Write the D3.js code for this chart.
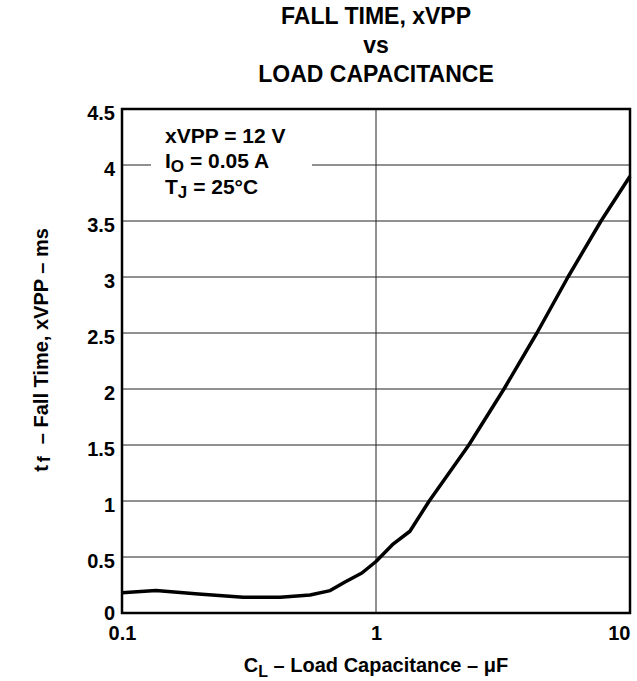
<!DOCTYPE html>
<html>
<head>
<meta charset="utf-8">
<script src="https://cdn.jsdelivr.net/npm/d3@7"></script>
<style>
  body { margin: 0; background: #fff; }
  text { font-family: "Liberation Sans", Arial, sans-serif; font-weight: bold; fill: #000; }
</style>
</head>
<body>
<div id="chart"></div>
<script>
// curve
var capacitance = [0.1, 0.136, 0.2, 0.3, 0.42, 0.55, 0.66, 0.755, 0.88, 1.0, 1.16, 1.36, 1.62, 2.32, 3.19, 4.3, 5.7, 7.69, 10];
var fallTime = [0.18, 0.2, 0.17, 0.14, 0.14, 0.16, 0.2, 0.277, 0.357, 0.46, 0.61, 0.73, 1.0, 1.5, 2.0, 2.5, 3.0, 3.5, 3.9];

var yTicks = [0, 0.5, 1, 1.5, 2, 2.5, 3, 3.5, 4, 4.5];
var xTicks = [0.1, 1, 10];
var titleLines = ['FALL TIME, xVPP', 'vs', 'LOAD CAPACITANCE'];

var width = 637;
var height = 681;
var plotLeft = 122, plotRight = 630, plotTop = 109, plotBottom = 613;

var svg = d3.select('#chart').append('svg')
    .attr('width', width)
    .attr('height', height);

var x = d3.scaleLog().domain([0.1, 10]).range([plotLeft, plotRight]);
var y = d3.scaleLinear().domain([0, 4.5]).range([plotBottom, plotTop]);

// title
svg.selectAll('.title')
    .data(titleLines)
    .enter()
    .append('text')
    .attr('class', 'title')
    .attr('x', 376)
    .attr('y', function (d, i) { return 24 + i * 29; })
    .attr('text-anchor', 'middle')
    .attr('font-size', '23px')
    .text(function (d) { return d; });

// grid
svg.append('g')
    .selectAll('line')
    .data(yTicks.slice(1, -1))
    .enter()
    .append('line')
    .attr('x1', plotLeft).attr('x2', plotRight)
    .attr('y1', function (d) { return y(d); })
    .attr('y2', function (d) { return y(d); })
    .attr('stroke', '#222')
    .attr('stroke-width', 1);

svg.append('line')
    .attr('x1', x(1)).attr('x2', x(1))
    .attr('y1', plotTop).attr('y2', plotBottom)
    .attr('stroke', '#222')
    .attr('stroke-width', 1);

// legend box covers the grid
svg.append('rect')
    .attr('x', 151).attr('y', 112)
    .attr('width', 161).attr('height', 96)
    .attr('fill', '#fff');

var legend = svg.append('g').attr('font-size', '21px');
var l1 = legend.append('text').attr('x', 165).attr('y', 143);
l1.text('xVPP = 12 V');
var l2 = legend.append('text').attr('x', 165).attr('y', 168);
l2.append('tspan').text('I');
l2.append('tspan').attr('dy', 4).attr('font-size', '17px').text('O');
l2.append('tspan').attr('dy', -4).text(' = 0.05 A');
var l3 = legend.append('text').attr('x', 165).attr('y', 194);
l3.append('tspan').text('T');
l3.append('tspan').attr('dy', 4).attr('font-size', '17px').text('J');
l3.append('tspan').attr('dy', -4).text(' = 25\u00B0C');

// curve
var points = capacitance.map(function (c, i) { return [c, fallTime[i]]; });
var line = d3.line()
    .x(function (d) { return x(d[0]); })
    .y(function (d) { return y(d[1]); });

svg.append('path')
    .datum(points)
    .attr('d', line)
    .attr('fill', 'none')
    .attr('stroke', '#000')
    .attr('stroke-width', 3.5)
    .attr('stroke-linejoin', 'round');

// frame
svg.append('rect')
    .attr('x', plotLeft).attr('y', plotTop)
    .attr('width', plotRight - plotLeft).attr('height', plotBottom - plotTop)
    .attr('fill', 'none')
    .attr('stroke', '#000')
    .attr('stroke-width', 2.5);

// tick labels
var yAxis = d3.axisLeft(y).tickValues(yTicks).tickSize(0).tickPadding(7)
    .tickFormat(function (d) { return String(d); });
var gy = svg.append('g').attr('transform', 'translate(' + plotLeft + ',0)').call(yAxis);
gy.select('.domain').remove();
gy.selectAll('text')
    .attr('font-size', '20px')
    .attr('font-family', null)
    .attr('dy', function (d) { return d === 0 ? '0.3em' : '0.5em'; });

var xAxis = d3.axisBottom(x).tickValues(xTicks).tickSize(0).tickPadding(13)
    .tickFormat(function (d) { return String(d); });
var gx = svg.append('g').attr('transform', 'translate(0,' + plotBottom + ')').call(xAxis);
gx.select('.domain').remove();
gx.selectAll('text').attr('font-size', '20px').attr('font-family', null);
gx.selectAll('.tick text').attr('text-anchor', function (d) {
    return d === 10 ? 'end' : 'middle';
});

// axis titles
var xl = svg.append('text')
    .attr('x', 376).attr('y', 672)
    .attr('text-anchor', 'middle')
    .attr('font-size', '20px');
xl.append('tspan').text('C');
xl.append('tspan').attr('dy', 5).attr('font-size', '16px').text('L');
xl.append('tspan').attr('dy', -5).text(' \u2013 Load Capacitance \u2013 \u03BCF');

var yl = svg.append('text')
    .attr('transform', 'translate(48,350) rotate(-90)')
    .attr('text-anchor', 'middle')
    .attr('font-size', '20px');
yl.append('tspan').text('t');
yl.append('tspan').attr('dx', 3).attr('dy', 2).attr('font-size', '18px').text('f');
yl.append('tspan').attr('dx', 12).attr('dy', -2).text('\u2013 Fall Time, xVPP \u2013 ms');
</script>
</body>
</html>
